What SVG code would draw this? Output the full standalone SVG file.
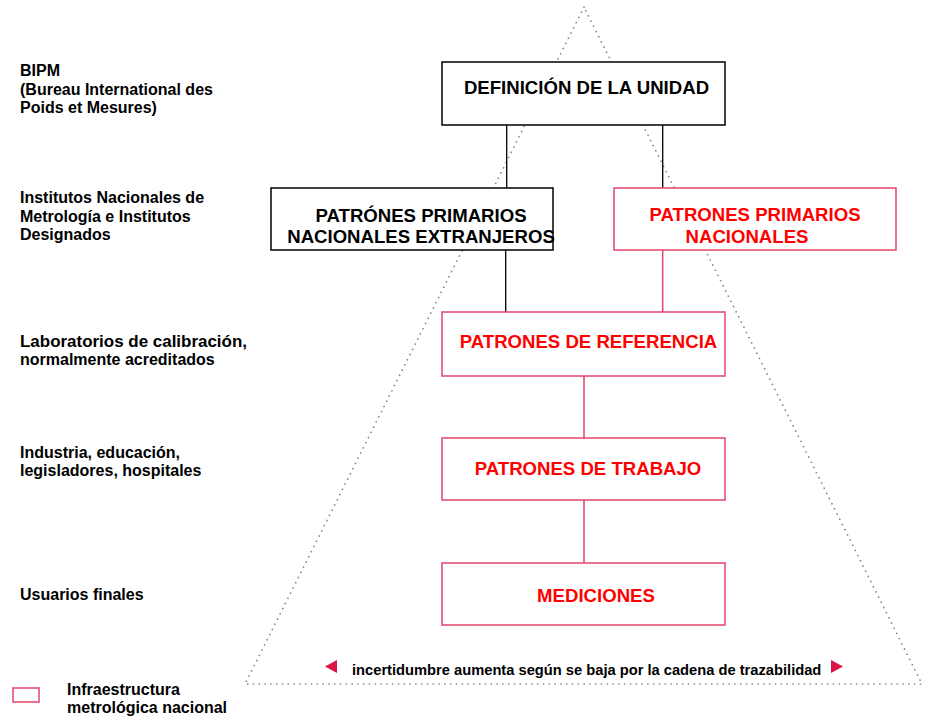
<svg xmlns="http://www.w3.org/2000/svg" width="928" height="720" viewBox="0 0 928 720">
<style>
text{font-family:"Liberation Sans",Arial,sans-serif;font-weight:bold}
.lbl{font-size:16px;fill:#000}
.bt{font-size:18.6px;text-anchor:middle}
.blk{fill:#fff;stroke:#000;stroke-width:1.5}
.red{fill:#fff;stroke:#e0466e;stroke-width:1.5}
.rt{fill:#ff0000}
.kt{fill:#000}
.cb{stroke:#000;stroke-width:1.3;fill:none}
.cr{stroke:#e0466e;stroke-width:1.5;fill:none}
</style>
<rect width="928" height="720" fill="#fff"/>
<polygon points="584,7 245,684 922,684" fill="none" stroke="#8a8a8a" stroke-width="1.7" stroke-dasharray="0.1 5.7" stroke-linecap="round"/>
<g id="connectors">
<line class="cb" x1="506.7" y1="125" x2="506.7" y2="188"/>
<line class="cb" x1="662.7" y1="125" x2="662.7" y2="188"/>
<line class="cb" x1="505.7" y1="250" x2="505.7" y2="312"/>
<line class="cr" x1="662.7" y1="250" x2="662.7" y2="312"/>
<line class="cr" x1="584" y1="376" x2="584" y2="438"/>
<line class="cr" x1="584" y1="500" x2="584" y2="563"/>
</g>
<g id="n-definicion">
<rect class="blk" x="442" y="62" width="283" height="63"/>
<text class="bt kt" x="586.5" y="94">DEFINICIÓN DE LA UNIDAD</text>
</g>
<g id="n-extranjeros">
<rect class="blk" x="271" y="188" width="282" height="62"/>
<text class="bt kt" x="421" y="221.5">PATRÓNES PRIMARIOS</text>
<text class="bt kt" x="421" y="242.5">NACIONALES EXTRANJEROS</text>
</g>
<g id="n-nacionales">
<rect class="red" x="614" y="188" width="282" height="62"/>
<text class="bt rt" x="755" y="221">PATRONES PRIMARIOS</text>
<text class="bt rt" x="747" y="242.5">NACIONALES</text>
</g>
<g id="n-referencia">
<rect class="red" x="442" y="312" width="283" height="64"/>
<text class="bt rt" x="588.5" y="348">PATRONES DE REFERENCIA</text>
</g>
<g id="n-trabajo">
<rect class="red" x="442" y="438" width="283" height="62"/>
<text class="bt rt" x="588" y="475">PATRONES DE TRABAJO</text>
</g>
<g id="n-mediciones">
<rect class="red" x="442" y="563" width="283" height="62"/>
<text class="bt rt" x="596" y="602">MEDICIONES</text>
</g>
<g id="labels">
<text class="lbl" x="20" y="76">BIPM</text>
<text class="lbl" x="20" y="94.5">(Bureau International des</text>
<text class="lbl" x="20" y="113">Poids et Mesures)</text>
<text class="lbl" x="20" y="202.5">Institutos Nacionales de</text>
<text class="lbl" x="20" y="221.5">Metrología e Institutos</text>
<text class="lbl" x="20" y="240">Designados</text>
<text class="lbl" x="20" y="346.5" textLength="227" lengthAdjust="spacingAndGlyphs">Laboratorios de calibración,</text>
<text class="lbl" x="20" y="364.5">normalmente acreditados</text>
<text class="lbl" x="20" y="458">Industria, educación,</text>
<text class="lbl" x="20" y="476">legisladores, hospitales</text>
<text class="lbl" x="20" y="600">Usuarios finales</text>
</g>
<g id="uncertainty">
<polygon points="325,666.5 337,660 337,673" fill="#dc1446"/>
<polygon points="843,666.5 831,660 831,673" fill="#dc1446"/>
<text x="352" y="675" font-size="14.7" fill="#000">incertidumbre aumenta según se baja por la cadena de trazabilidad</text>
</g>
<g id="legend">
<rect x="13" y="688" width="26" height="14" fill="#fff" stroke="#e0466e" stroke-width="1.5"/>
<text class="lbl" x="67" y="695" font-size="15">Infraestructura</text>
<text class="lbl" x="67" y="713" font-size="15">metrológica nacional</text>
</g>
</svg>
